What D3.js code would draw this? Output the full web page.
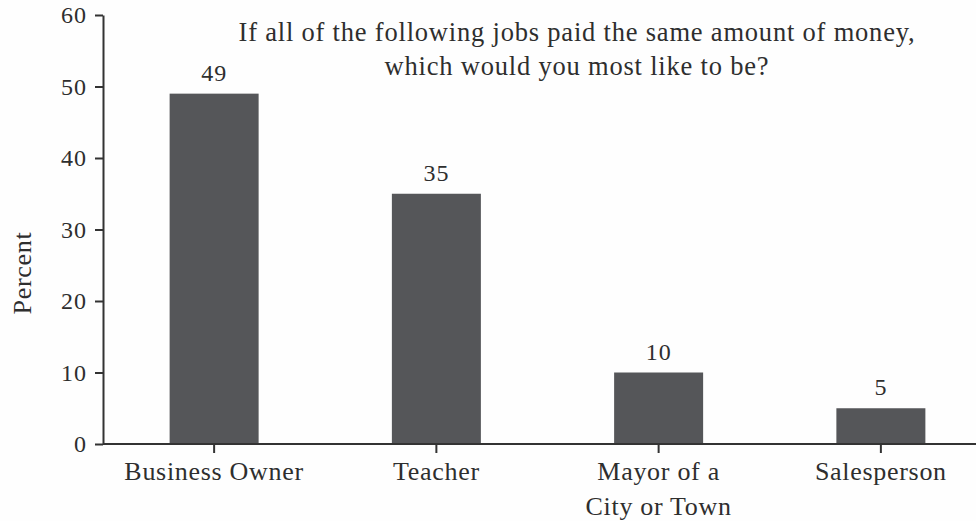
<!DOCTYPE html>
<html><head><meta charset="utf-8">
<script src="https://cdn.jsdelivr.net/npm/d3@7"></script>
<style>body{margin:0;background:#fefefe}svg{display:block}</style>
</head><body>
<script>
const categories = [["Business Owner"], ["Teacher"], ["Mayor of a", "City or Town"], ["Salesperson"]];
const values = [49, 35, 10, 5];
const yTicks = [0, 10, 20, 30, 40, 50, 60];
const titleLines = ["If all of the following jobs paid the same amount of money,", "which would you most like to be?"];
const yLabel = "Percent";

const FONT = "'Liberation Serif', 'Times New Roman', serif";
const TXT = "#2e2e2e";
const W = 976, H = 521;
const svg = d3.select("body").append("svg").attr("width", W).attr("height", H)
  .style("font-family", FONT);
const x0 = 103, x1 = 992, yTop = 15, yBot = 444;
const x = d3.scalePoint().domain(d3.range(categories.length)).range([x0, x1]).padding(0.5);
const y = d3.scaleLinear().domain([0, 60]).range([yBot, yTop]);
const barW = 89;

svg.selectAll("rect.bar").data(values).join("rect").attr("class","bar")
  .attr("x", (d,i) => x(i) - barW/2).attr("width", barW)
  .attr("y", d => y(d)).attr("height", d => y(0) - y(d))
  .attr("fill", "#555659");

svg.selectAll("text.val").data(values).join("text").attr("class","val")
  .attr("x", (d,i) => x(i)).attr("y", d => y(d) - 13)
  .attr("text-anchor","middle").attr("font-size", 24).attr("letter-spacing", 1)
  .attr("font-family", FONT).attr("fill", TXT).text(d => d);

// y axis
const ya = svg.append("g").attr("transform", `translate(${x0},0)`)
  .call(d3.axisLeft(y).tickValues(yTicks).tickSize(8).tickPadding(8).tickSizeOuter(0));
ya.attr("font-family", FONT);
ya.select(".domain").attr("stroke","#333").attr("stroke-width",2);
ya.selectAll(".tick line").attr("stroke","#333").attr("stroke-width",2);
ya.selectAll(".tick text").attr("font-size",24).attr("letter-spacing",1)
  .attr("font-family", FONT).attr("fill", TXT);

// x axis
svg.append("line").attr("x1", x0).attr("x2", W).attr("y1", yBot).attr("y2", yBot)
  .attr("stroke","#333").attr("stroke-width",2);
svg.selectAll("line.xt").data(categories).join("line").attr("class","xt")
  .attr("x1",(d,i)=>x(i)).attr("x2",(d,i)=>x(i)).attr("y1",yBot).attr("y2",yBot+9)
  .attr("stroke","#333").attr("stroke-width",2);
const xl = svg.selectAll("text.xl").data(categories).join("text").attr("class","xl")
  .attr("text-anchor","middle").attr("font-size",26).attr("letter-spacing",0.7)
  .attr("font-family", FONT).attr("fill", TXT);
xl.selectAll("tspan").data((d,i)=>d.map(s=>({s,i}))).join("tspan")
  .attr("x", d => x(d.i)).attr("y",(d,j)=>480 + j*35).text(d=>d.s);

// title
svg.selectAll("text.title").data(titleLines).join("text").attr("class","title")
  .attr("x", 577).attr("y",(d,i)=>41 + i*34).attr("text-anchor","middle")
  .attr("font-size",26.5).attr("letter-spacing",0.8)
  .attr("font-family", FONT).attr("fill", TXT).text(d=>d);

svg.append("text").attr("transform","translate(31,273) rotate(-90)")
  .attr("text-anchor","middle").attr("font-size",26).attr("letter-spacing",0.7)
  .attr("font-family", FONT).attr("fill", TXT).text(yLabel);
</script>
</body></html>
